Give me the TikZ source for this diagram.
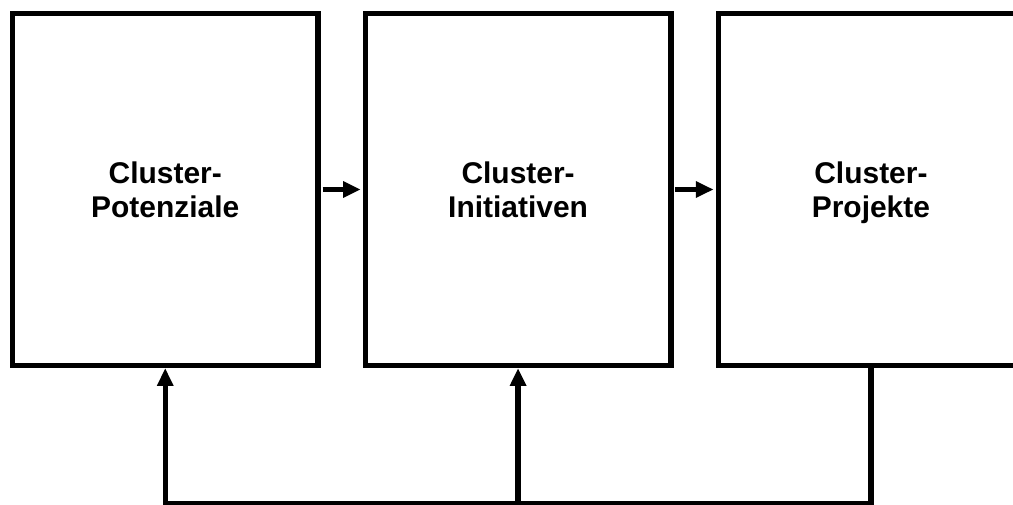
\documentclass[tikz,border=0pt]{standalone}
\usepackage{fontspec}
\setmainfont{Liberation Sans}
\usetikzlibrary{positioning,arrows.meta}

\tikzset{
  clusterbox/.style={draw, line width=3.8pt, minimum width=7.6375cm, minimum height=8.8cm,
    align=center, text depth=0pt, font=\fontsize{21.3}{24.2}\selectfont\bfseries},
  pfeil/.style={line width=3.8pt, -{Triangle[length=12.5pt,width=11pt]}},
  linie/.style={line width=3.8pt}
}

\begin{document}
\begin{tikzpicture}
   	\useasboundingbox (0,0) rectangle (25.325,12.6);
   	\clip (0,0) rectangle (25.325,12.6);

	%Die drei Kaesten
   	\node[clusterbox] (potenziale) at (4.131,7.8625) {Cluster-\\Potenziale};
   	\node[clusterbox, right=1.05cm of potenziale] (initiativen) {Cluster-\\Initiativen};
   	\node[clusterbox, right=1.05cm of initiativen] (projekte) {Cluster-\\Projekte};

	%Pfeile zwischen den Kaesten
   	\draw[pfeil, shorten <=1.4pt, shorten >=1.4pt] (potenziale) -- (initiativen);
   	\draw[pfeil, shorten <=1.4pt, shorten >=1.4pt] (initiativen) -- (projekte);

	%Rueckkopplung unten
   	\coordinate (unten) at (projekte.south |- 0,0);
   	\draw[pfeil] (projekte.south) -- (unten) -| (potenziale.south);
   	\draw[pfeil] (initiativen.south |- unten) -- (initiativen.south);
\end{tikzpicture}
\end{document}
